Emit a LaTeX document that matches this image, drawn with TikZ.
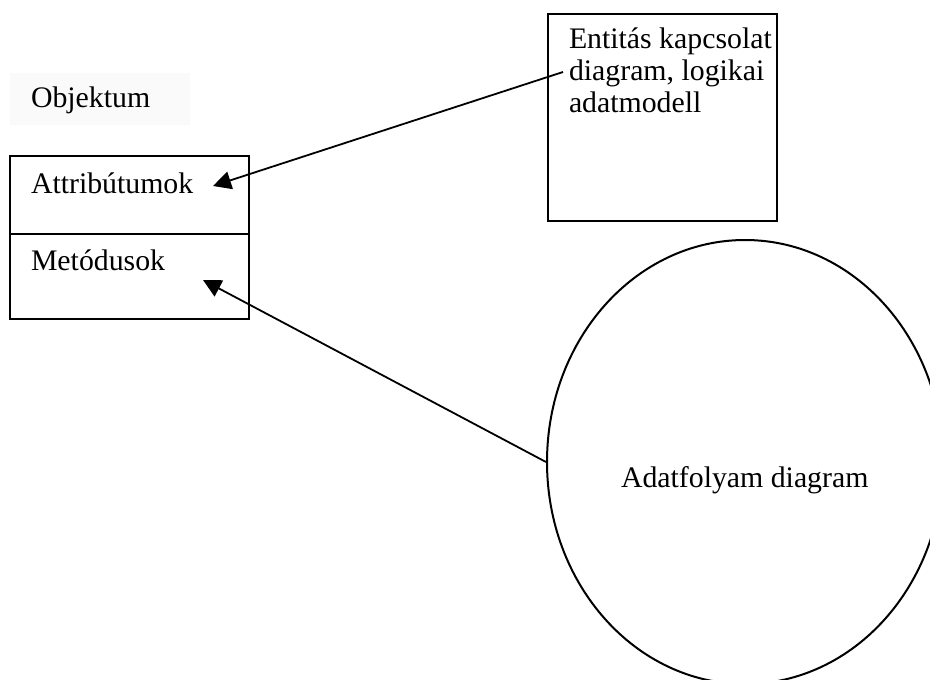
\documentclass[tikz,border=0pt]{standalone}
\usepackage{fontspec}
\setmainfont{Liberation Serif}
\usetikzlibrary{arrows.meta,shapes.geometric}
\begin{document}
\begin{tikzpicture}[x=0.5pt, y=-0.5pt, line width=1pt,
  box/.style={draw, rectangle, inner sep=0pt, anchor=north west},
  txt/.style={anchor=base west, inner sep=0pt, font=\fontsize{14.9}{16}\selectfont},
  link/.style={-{Triangle[length=9pt,width=9pt]}, line width=0.9pt}]
% canvas
\clip (0,0) rectangle (930,679);
\fill[white] (0,0) rectangle (930,679);

% object title with its faint backdrop
\fill[black!2] (10,73) rectangle (190,125);
\node[txt] (obj) at (30,108) {Objektum};

% object box: attributes and methods compartments
\node[box, minimum width=119.5pt, minimum height=39pt] (attrbox) at (9,155) {};
\node[box, minimum width=119.5pt, minimum height=42.5pt] (methbox) at (9,233) {};
\node[txt] (attr) at (30,193) {Attribútumok};
\node[txt] (meth) at (30,270) {Metódusok};
\coordinate (attrtip) at (213,186);
\coordinate (methtip) at (203,280);

% entity-relationship box, its caption set line by line
\node[box, minimum width=114.5pt, minimum height=103.5pt] (erbox) at (547,13) {};
\node[txt] (erline1) at (568,49) {Entitás kapcsolat};
\node[txt] (erline2) at (568,81) {diagram, logikai};
\node[txt] (erline3) at (568,113) {adatmodell};
\coordinate (erfoot) at (563,72);

% data flow circle
\node[ellipse, draw, minimum width=198pt, minimum height=222pt, inner sep=0pt] (dfd) at (745,462) {};
\node[txt] (dfdtext) at (620,487) {Adatfolyam diagram};

% connectors
\draw[link] (erfoot) -- (attrtip);
\draw[link] (dfd.west) -- (methtip);
\end{tikzpicture}
\end{document}
